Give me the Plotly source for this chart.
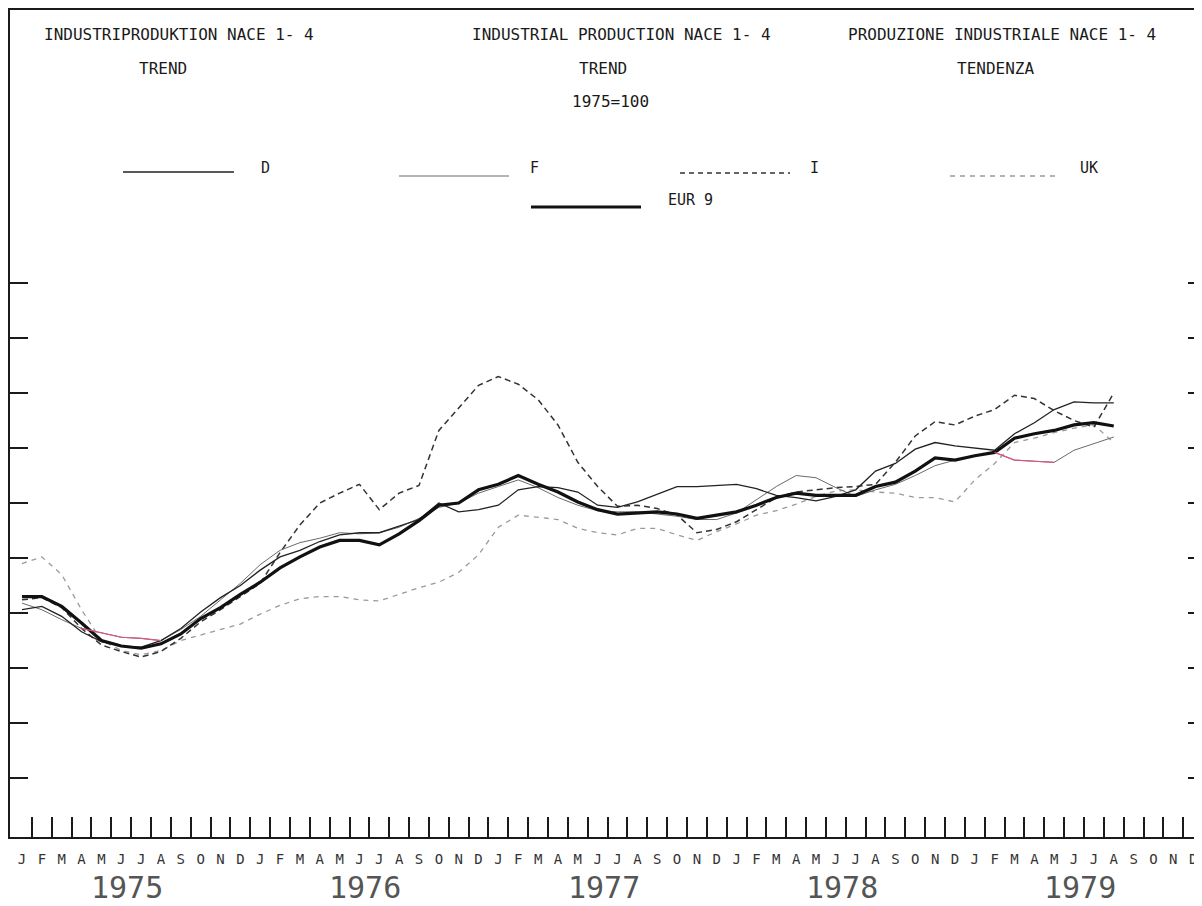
import plotly.graph_objects as go

# monthly trend indices, Jan 1975 .. Aug 1979 (1975=100)
MONTHS = list("JFMAMJJASOND") * 5
YEARS = ["1975", "1976", "1977", "1978", "1979"]

eur9 = [101.5, 101.5, 100.6, 99.1, 97.5, 97.0, 96.8, 97.2, 98.1, 99.5, 100.5, 101.7,
        102.8, 104.1, 105.1, 106.0, 106.6, 106.6, 106.2, 107.2, 108.4, 109.8, 110.0, 111.2,
        111.7, 112.5, 111.7, 111.0, 110.1, 109.4, 109.0, 109.1, 109.2, 109.0, 108.6, 108.9,
        109.2, 109.8, 110.5, 110.9, 110.7, 110.7, 110.7, 111.5, 111.9, 112.9, 114.1, 113.9,
        114.3, 114.6, 115.9, 116.3, 116.6, 117.1, 117.3, 117.0]

d = [100.3, 100.6, 99.7, 98.3, 97.4, 97.0, 96.9, 97.5, 98.6, 100.1, 101.4, 102.5,
     103.9, 105.1, 105.7, 106.5, 107.1, 107.3, 107.3, 107.9, 108.5, 110.0, 109.2, 109.4,
     109.8, 111.2, 111.5, 111.4, 111.0, 109.8, 109.6, 110.1, 110.8, 111.5, 111.5, 111.6,
     111.7, 111.3, 110.7, 110.5, 110.2, 110.6, 111.2, 112.9, 113.6, 114.9, 115.5, 115.2,
     115.0, 114.8, 116.3, 117.3, 118.5, 119.2, 119.1, 119.1]

f = [100.9, 100.3, 99.4, 98.6, 98.2, 97.8, 97.7, 97.5, 98.5, 99.7, 101.2, 102.7,
     104.4, 105.7, 106.4, 106.8, 107.3, 107.2, 107.3, 107.8, 108.6, 109.6, 110.0, 110.9,
     111.5, 112.1, 111.4, 110.5, 109.8, 109.3, 109.2, 109.2, 109.0, 108.8, 108.5, 108.5,
     109.1, 110.3, 111.5, 112.5, 112.3, 111.4, 110.6, 111.2, 111.7, 112.5, 113.4, 113.9,
     114.3, 114.6, 113.9, 113.8, 113.7, 114.8, 115.4, 116.0]

it = [101.2, 101.4, 100.5, 98.6, 97.1, 96.5, 96.0, 96.5, 97.7, 99.2, 100.3, 101.5,
      102.7, 105.5, 108.0, 110.0, 110.9, 111.7, 109.4, 110.9, 111.6, 116.6, 118.6, 120.7,
      121.5, 120.8, 119.4, 117.1, 113.7, 111.5, 109.7, 109.8, 109.5, 108.9, 107.3, 107.6,
      108.3, 109.4, 110.5, 111.0, 111.2, 111.4, 111.5, 111.7, 113.7, 116.1, 117.4, 117.1,
      117.9, 118.5, 119.8, 119.5, 118.4, 117.5, 116.9, 120.0]

uk = [104.5, 105.1, 103.5, 100.3, 97.5, 96.6, 96.2, 96.6, 97.5, 98.0, 98.5, 99.0,
      99.9, 100.7, 101.3, 101.5, 101.5, 101.2, 101.1, 101.7, 102.3, 102.8, 103.7, 105.3,
      107.8, 108.9, 108.7, 108.5, 107.7, 107.3, 107.1, 107.7, 107.7, 107.1, 106.6, 107.4,
      108.1, 108.9, 109.3, 109.9, 110.6, 111.1, 111.2, 111.0, 110.9, 110.5, 110.5, 110.1,
      112.1, 113.6, 115.5, 115.9, 116.4, 116.8, 117.1, 115.5]

# stretches of the F curve that came out reddish on the original print
F_PINK = [(3, 8), (49, 53)]

Y_TICKS = [85, 90, 95, 100, 105, 110, 115, 120, 125, 130]
Y_RANGE = [79.64, 154.82]

# the page body has an 8px margin, so the figure starts 8px in
OFF = 8
W, H = 1202 - OFF, 906 - OFF
L, R, T, B = 10, OFF + W, 10, 837   # frame in screen pixels


def px(x, y):
    # screen pixel -> paper coords
    return (x - L) / (R - L), (B - y) / (B - T)


INK = "#1a1a1a"
FONT = "DejaVu Sans Mono"

series = [
    (uk, dict(color="#9a9a9a", width=1.3, dash="5px,5px")),
    (it, dict(color="#333333", width=1.5, dash="6px,4px")),
    (f, dict(color="#6a6a6a", width=1.0)),
    (d, dict(color="#222222", width=1.3)),
    (eur9, dict(color="#111111", width=3.2)),
]

fig = go.Figure()
for vals, line in series:
    fig.add_trace(go.Scatter(x=list(range(len(vals))), y=vals, mode="lines",
                             line=line, showlegend=False, hoverinfo="skip"))

for a, b in F_PINK:
    fig.add_trace(go.Scatter(x=list(range(a, b)), y=f[a:b], mode="lines", yaxis="y2",
                             line=dict(color="#d9577f", width=1.2),
                             showlegend=False, hoverinfo="skip"))

# legend samples
legend = [
    (123, 234, 172, dict(color="#222222", width=1.3), "D", 259, 168),
    (399, 509, 176, dict(color="#6a6a6a", width=1.0), "F", 528, 168),
    (680, 790, 173, dict(color="#333333", width=1.5, dash="5px,4px"), "I", 808, 168),
    (950, 1060, 176, dict(color="#9a9a9a", width=1.3, dash="5px,5px"), "UK", 1078, 168),
    (531, 641, 207, dict(color="#111111", width=3), "EUR 9", 666, 200),
]
for x0, x1, yy, line, label, tx, ty in legend:
    a0, b0 = px(x0, yy)
    a1, _ = px(x1, yy)
    fig.add_shape(type="line", xref="paper", yref="paper", x0=a0, x1=a1, y0=b0, y1=b0, line=line)
    lx, ly = px(tx, ty)
    fig.add_annotation(x=lx, y=ly, xref="paper", yref="paper", text=label, showarrow=False,
                       xanchor="left", yanchor="middle", font=dict(family=FONT, size=15, color=INK))

titles = [
    ("INDUSTRIPRODUKTION NACE 1- 4", 42, 35, "left"),
    ("TREND", 163, 68, "center"),
    ("INDUSTRIAL PRODUCTION NACE 1- 4", 470, 35, "left"),
    ("TREND", 603, 68, "center"),
    ("1975=100", 610, 101, "center"),
    ("PRODUZIONE INDUSTRIALE NACE 1- 4", 846, 35, "left"),
    ("TENDENZA", 995, 68, "center"),
]
for text, tx, ty, anchor in titles:
    lx, ly = px(tx, ty)
    fig.add_annotation(x=lx, y=ly, xref="paper", yref="paper", text=text, showarrow=False,
                       xanchor=anchor, yanchor="middle", font=dict(family=FONT, size=16, color=INK))

for k, yr in enumerate(YEARS):
    fig.add_annotation(x=5.3 + 12 * k, y=px(0, 887)[1], xref="x", yref="paper", text=yr,
                       showarrow=False, yanchor="middle",
                       font=dict(family=FONT, size=30, color="#555555"))

# month spacing is 19.85px with January 1975 centred at x=22
x_lo = (L - 22) / 19.85
x_hi = (R - 22) / 19.85

fig.update_layout(
    width=W, height=H,
    margin=dict(l=L - OFF, r=0, t=T - OFF, b=H - (B - OFF)),
    paper_bgcolor="white", plot_bgcolor="white",
    xaxis=dict(range=[x_lo, x_hi], showgrid=False, zeroline=False,
               showline=True, linecolor=INK, linewidth=2, mirror=True,
               tickmode="array", tickvals=list(range(60)), ticktext=MONTHS,
               ticks="", ticklabelstandoff=8, ticklabeloverflow="allow",
               tickfont=dict(family=FONT, size=14, color="#333333"),
               minor=dict(tickmode="array", tickvals=[i + 0.5 for i in range(59)],
                          ticks="inside", ticklen=20, tickwidth=1.5, tickcolor=INK,
                          showgrid=False)),
    yaxis=dict(range=Y_RANGE, showgrid=False, zeroline=False,
               showline=True, linecolor=INK, linewidth=2, mirror=False,
               tickmode="array", tickvals=Y_TICKS,
               ticks="inside", ticklen=18, tickwidth=1.5, tickcolor=INK,
               showticklabels=False),
    # right-hand ticks without a frame line (the original is cut off there)
    yaxis2=dict(range=Y_RANGE, overlaying="y", side="right", showgrid=False,
                zeroline=False, showline=False, tickmode="array", tickvals=Y_TICKS,
                ticks="inside", ticklen=14, tickwidth=1.5, tickcolor=INK,
                showticklabels=False),
)

fig.write_html("out.html")
